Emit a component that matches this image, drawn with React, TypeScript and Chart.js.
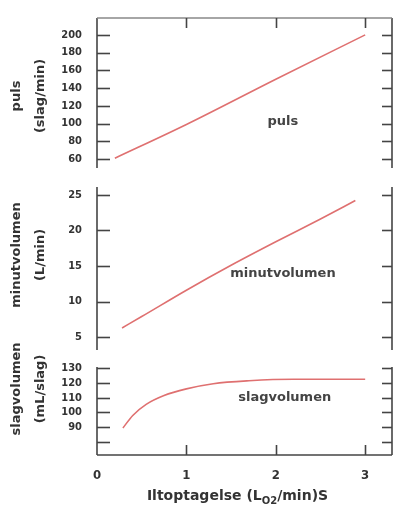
import { useEffect, useRef } from 'react';
import { Chart, registerables } from 'chart.js';

Chart.register(...registerables);

const W = 395;
const H = 509;

// Oxygen uptake (L O2/min) against heart rate, cardiac output and stroke volume
const pulsX = [0.2, 1, 2, 3];
const pulsY = [61, 99, 150, 200];

const minutX = [0.28, 0.5, 1, 1.5, 2, 2.5, 2.89];
const minutY = [6.3, 7.9, 11.6, 15.1, 18.4, 21.6, 24.2];

const slagX = [0.29, 0.4, 0.55, 0.75, 1.0, 1.3, 1.7, 2.2, 2.7, 3.0];
const slagY = [89.5, 98, 105.5, 111.5, 116, 119.5, 121.5, 122.5, 122.5, 122.5];

// tick values and labels
const pulsTicks = [60, 80, 100, 120, 140, 160, 180, 200];
const pulsLabels = ['60', '80', '100', '120', '140', '160', '180', '200'];
const minutTicks = [5, 10, 15, 20, 25];
const minutLabels = ['5', '10', '15', '20', '25'];
const slagTicks = [80, 90, 100, 110, 120, 130];
const slagLabels = ['', '90', '100', '110', '120', '130'];
const xTicks = [0, 1, 2, 3];
const xLabels = ['0', '1', '2', '3'];
const xFrameTicks = [1, 2, 3];

const RED = '#df7070';
const TICK_FONT = "'DejaVu Sans Condensed', 'Liberation Sans Narrow', 'DejaVu Sans', sans-serif";
const TEXT_FONT = "'DejaVu Sans', sans-serif";

type PanelCfg = {
  top: number;
  bottom: number;
  min: number;
  max: number;
  xs: number[];
  ys: number[];
  ticks: number[];
  labels: string[];
  title: string[];
  titleY: number;
  name: string;
  nameAt: [number, number];
  frameTop?: boolean;
  frameBottom?: boolean;
};

const panels: PanelCfg[] = [
  {
    top: 18, bottom: 168, min: 50, max: 219,
    xs: pulsX, ys: pulsY, ticks: pulsTicks, labels: pulsLabels,
    title: ['puls', '(slag/min)'], titleY: 96,
    name: 'puls', nameAt: [2.08, 101.8], frameTop: true,
  },
  {
    top: 187, bottom: 350, min: 3.2, max: 26.1,
    xs: minutX, ys: minutY, ticks: minutTicks, labels: minutLabels,
    title: ['minutvolumen', '(L/min)'], titleY: 255,
    name: 'minutvolumen', nameAt: [2.08, 14.0],
  },
  {
    top: 367, bottom: 455, min: 71.2, max: 130.8,
    xs: slagX, ys: slagY, ticks: slagTicks, labels: slagLabels,
    title: ['slagvolumen', '(mL/slag)'], titleY: 389,
    name: 'slagvolumen', nameAt: [2.1, 110], frameBottom: true,
  },
];

// Draws the panel frame with inward tick marks, the rotated side title,
// the in-plot curve name and (for the bottom panel) the x-axis title.
const panelFrame = {
  id: 'panelFrame',
  afterDraw(chart: any, _args: any, opts: any) {
    const { ctx, chartArea: a, scales } = chart;
    const xs = scales.x;
    const ys = scales.y;
    const seg = (x1: number, y1: number, x2: number, y2: number) => {
      ctx.beginPath();
      ctx.moveTo(x1, y1);
      ctx.lineTo(x2, y2);
      ctx.stroke();
    };
    ctx.save();
    ctx.strokeStyle = '#444';
    ctx.lineWidth = 1.6;
    seg(a.left, a.top, a.left, a.bottom);
    seg(a.right, a.top, a.right, a.bottom);
    for (const t of ys.ticks) {
      const py = Math.round(ys.getPixelForValue(t.value)) + 0.5;
      seg(a.left, py, a.left + 13, py);
      seg(a.right - 10, py, a.right, py);
    }
    if (opts.frameTop) {
      ctx.strokeStyle = '#888';
      seg(a.left, a.top, a.right, a.top);
      ctx.strokeStyle = '#444';
      for (const v of xFrameTicks) {
        const px = Math.round(xs.getPixelForValue(v)) + 0.5;
        seg(px, a.top, px, a.top + 10);
      }
    }
    if (opts.frameBottom) {
      seg(a.left, a.bottom, a.right, a.bottom);
      for (const v of xFrameTicks) {
        const px = Math.round(xs.getPixelForValue(v)) + 0.5;
        seg(px, a.bottom, px, a.bottom - 10);
      }
    }

    // rotated side title, two lines
    ctx.fillStyle = '#333';
    ctx.font = `bold 13px ${TEXT_FONT}`;
    ctx.textAlign = 'center';
    ctx.textBaseline = 'middle';
    const cols = [17, 41];
    opts.title.forEach((line: string, i: number) => {
      ctx.save();
      ctx.translate(cols[i], opts.titleY);
      ctx.rotate(-Math.PI / 2);
      ctx.fillText(line, 0, 0);
      ctx.restore();
    });

    // curve name inside the plot
    ctx.fillStyle = '#444';
    ctx.font = `bold 13px ${TEXT_FONT}`;
    ctx.fillText(opts.name, xs.getPixelForValue(opts.nameAt[0]), ys.getPixelForValue(opts.nameAt[1]));

    // x-axis title with subscript
    if (opts.frameBottom) {
      const big = `bold 14px ${TEXT_FONT}`;
      const small = `bold 10px ${TEXT_FONT}`;
      const parts: [string, string, number][] = [
        ['Iltoptagelse (L', big, 0],
        ['O2', small, 4],
        ['/min)S', big, 0],
      ];
      let total = 0;
      for (const [s, f] of parts) {
        ctx.font = f;
        total += ctx.measureText(s).width;
      }
      let cx = (a.left + a.right) / 2 - 7 - total / 2;
      const base = 500;
      ctx.textAlign = 'left';
      ctx.textBaseline = 'alphabetic';
      ctx.fillStyle = '#333';
      for (const [s, f, dy] of parts) {
        ctx.font = f;
        ctx.fillText(s, cx, base + dy);
        cx += ctx.measureText(s).width;
      }
    }
    ctx.restore();
  },
};

function Panel({ cfg }: { cfg: PanelCfg }) {
  const ref = useRef<HTMLCanvasElement>(null);
  useEffect(() => {
    const showX = !!cfg.frameBottom;
    const chart = new Chart(ref.current as HTMLCanvasElement, {
      type: 'line',
      data: {
        datasets: [
          {
            data: cfg.xs.map((x, i) => ({ x, y: cfg.ys[i] })),
            borderColor: RED,
            borderWidth: 1.6,
            pointRadius: 0,
            cubicInterpolationMode: 'monotone',
            fill: false,
          },
        ],
      },
      options: {
        responsive: false,
        animation: false,
        events: [],
        layout: {
          padding: { top: cfg.top, bottom: showX ? 0 : H - cfg.bottom, left: 0, right: W - 392 },
        },
        plugins: {
          legend: { display: false },
          tooltip: { enabled: false },
          panelFrame: {
            frameTop: !!cfg.frameTop,
            frameBottom: !!cfg.frameBottom,
            title: cfg.title,
            titleY: cfg.titleY,
            name: cfg.name,
            nameAt: cfg.nameAt,
          },
        } as any,
        scales: {
          x: {
            type: 'linear',
            min: 0,
            max: 3.3,
            display: showX,
            afterBuildTicks: (s: any) => {
              s.ticks = xTicks.map((v) => ({ value: v }));
            },
            afterFit: showX
              ? (s: any) => {
                  s.height = H - cfg.bottom;
                }
              : undefined,
            grid: { display: false },
            border: { display: false },
            ticks: {
              autoSkip: false,
              maxRotation: 0,
              padding: 5,
              color: '#333',
              font: { family: TICK_FONT, size: 13, weight: 'bold' },
              callback: (_v: any, i: number) => xLabels[i],
            },
          },
          y: {
            type: 'linear',
            min: cfg.min,
            max: cfg.max,
            afterBuildTicks: (s: any) => {
              s.ticks = cfg.ticks.map((v) => ({ value: v }));
            },
            afterFit: (s: any) => {
              s.width = 97;
            },
            grid: { display: false },
            border: { display: false },
            ticks: {
              autoSkip: false,
              padding: 7,
              color: '#333',
              font: { family: TICK_FONT, size: 11, weight: 'bold' },
              callback: (_v: any, i: number) => cfg.labels[i],
            },
          },
        },
      } as any,
      plugins: [panelFrame],
    });
    return () => chart.destroy();
  }, [cfg]);
  return (
    <canvas
      ref={ref}
      width={W}
      height={H}
      style={{ position: 'absolute', left: 0, top: 0, width: W, height: H }}
    />
  );
}

export default function App() {
  return (
    <div style={{ position: 'absolute', left: 0, top: 0, width: W, height: H, background: '#fff' }}>
      {panels.map((p, i) => (
        <Panel key={i} cfg={p} />
      ))}
    </div>
  );
}
